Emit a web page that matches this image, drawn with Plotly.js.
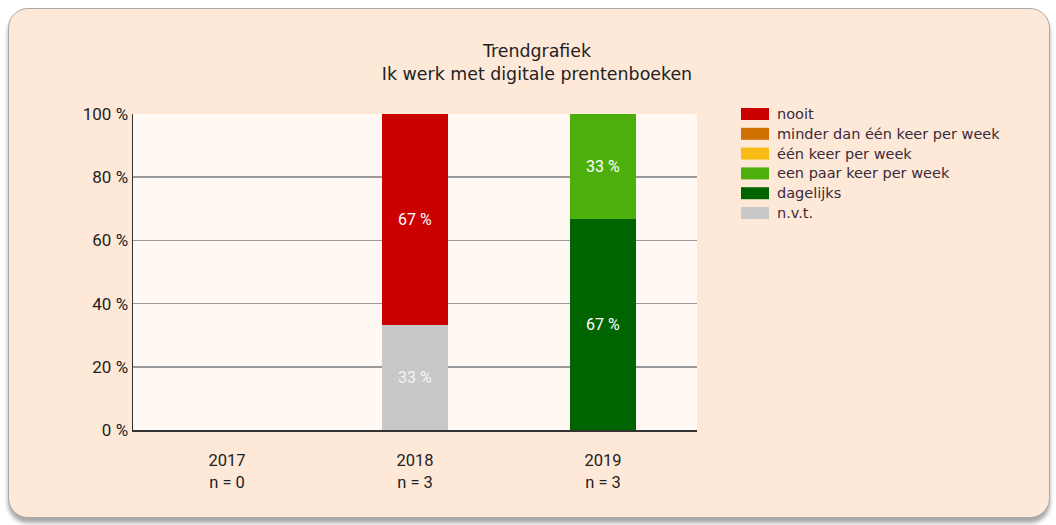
<!DOCTYPE html>
<html>
<head>
<meta charset="utf-8">
<script src="https://cdn.plot.ly/plotly-3.0.1.min.js"></script>
<style>
  html, body { margin: 0; padding: 0; background: #ffffff; }
  #panel {
    position: absolute; left: 8px; top: 8px; width: 1040px; height: 508px;
    background: #fee9d8; border: 1px solid #a9a9a9; border-radius: 20px;
    box-shadow: 0 5px 4px rgba(0,0,0,0.35);
  }
  #chart { position: absolute; left: 0; top: 0; width: 1056px; height: 525px; }
</style>
</head>
<body>
<div id="panel"></div>
<div id="chart"></div>
<script>
const years = ["2017", "2018", "2019"];
const nValues = [0, 3, 3];
const categoryLabels = years.map((y, i) => y + "<br>n = " + nValues[i]);

// series in stacking order (bottom to top)
const seriesNames = ["n.v.t.", "dagelijks", "een paar keer per week", "één keer per week", "minder dan één keer per week", "nooit"];
const seriesColors = ["#c8c8c8", "#006400", "#4caf0c", "#f8bb16", "#d07000", "#cc0000"];
const nvt = [0, 33.33, 0];
const dagelijks = [0, 0, 66.67];
const eenPaar = [0, 0, 33.33];
const eenKeer = [0, 0, 0];
const minder = [0, 0, 0];
const nooit = [0, 66.67, 0];
const seriesValues = [nvt, dagelijks, eenPaar, eenKeer, minder, nooit];

const traces = seriesNames.map((name, i) => ({
  type: "bar",
  name: name,
  x: categoryLabels,
  y: seriesValues[i],
  marker: { color: seriesColors[i], line: { width: 0 } },
  text: seriesValues[i].map(v => v > 0 ? Math.round(v) + " %" : ""),
  textposition: "inside",
  insidetextanchor: "middle",
  textfont: { color: i === 0 ? "#f4f4f4" : "#ffffff", family: "Roboto, Liberation Sans, sans-serif", size: 16 },
  hoverinfo: "none",
  showlegend: false
}));

// Plot area geometry (pixels) used to place the custom legend
const L = 133, R = 359, T = 114, B = 95, W = 1056, H = 525;
const pw = W - L - R, ph = H - T - B;
const px2x = p => (p - L) / pw;
const py2y = p => (H - B - p) / ph;

// legend: top-to-bottom order is reverse of stacking order
const legendOrder = seriesNames.map((_, i) => i).reverse();
const shapes = [];
const annotations = [];
legendOrder.forEach((si, row) => {
  const cy = 114 + row * 19.8;
  shapes.push({
    type: "rect", xref: "paper", yref: "paper",
    x0: px2x(741), x1: px2x(769), y0: py2y(cy - 6), y1: py2y(cy + 6),
    fillcolor: seriesColors[si], line: { width: 0 }
  });
  annotations.push({
    xref: "paper", yref: "paper", x: px2x(775), y: py2y(cy),
    xanchor: "left", yanchor: "middle", showarrow: false,
    text: seriesNames[si],
    font: { family: "DejaVu Sans, sans-serif", size: 14.5, color: "#3a2a3a" }
  });
});

const layout = {
  width: W, height: H,
  paper_bgcolor: "rgba(0,0,0,0)",
  plot_bgcolor: "#fff8f3",
  barmode: "stack",
  bargap: 0.65,
  margin: { l: L, r: R, t: T, b: B },
  title: {
    text: "Trendgrafiek<br>Ik werk met digitale prentenboeken",
    font: { family: "DejaVu Sans, sans-serif", size: 17.4, color: "#222222" },
    x: 537 / W, xanchor: "center", xref: "container",
    y: 1 - 57 / H, yanchor: "middle", yref: "container"
  },
  xaxis: {
    type: "category",
    showgrid: false,
    showline: true, linecolor: "#333333", linewidth: 1.5,
    ticks: "outside", ticklen: 15, tickcolor: "rgba(0,0,0,0)",
    tickfont: { family: "Roboto, Liberation Sans, sans-serif", size: 16.5, color: "#222222" },
    fixedrange: true
  },
  yaxis: {
    range: [0, 100],
    tickvals: [0, 20, 40, 60, 80, 100],
    ticktext: ["0 %", "20 %", "40 %", "60 %", "80 %", "100 %"],
    showgrid: true, gridcolor: "#999999", gridwidth: 1.5,
    showline: true, linecolor: "#333333", linewidth: 1.5,
    zeroline: false,
    ticks: "", ticklen: 0,
    tickfont: { family: "Roboto, Liberation Sans, sans-serif", size: 17, color: "#222222" },
    fixedrange: true
  },
  shapes: shapes,
  annotations: annotations,
  showlegend: false
};

Plotly.newPlot("chart", traces, layout, { displayModeBar: false, staticPlot: true });
</script>
</body>
</html>
